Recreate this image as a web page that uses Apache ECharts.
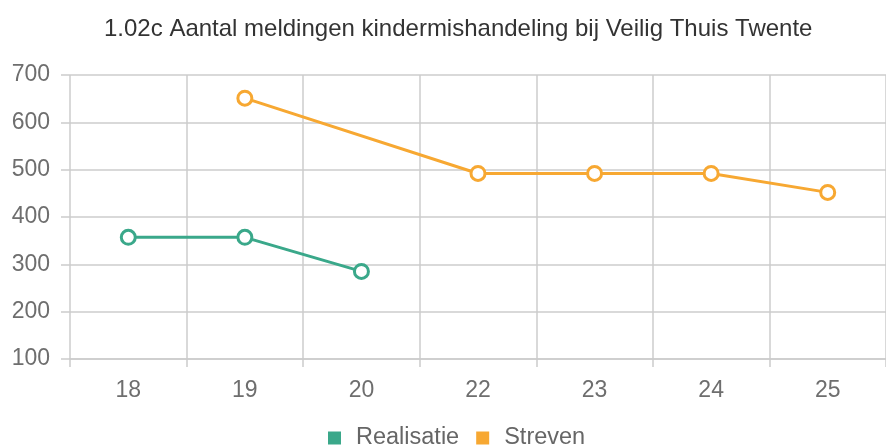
<!DOCTYPE html>
<html><head><meta charset="utf-8">
<script src="https://cdn.jsdelivr.net/npm/echarts@6/dist/echarts.min.js"></script>
<style>html,body{margin:0;padding:0;background:#fff}#c{width:886px;height:446px}</style>
</head><body><div id="c"></div>
<script>
const titleText = "1.02c Aantal meldingen kindermishandeling bij Veilig Thuis Twente";
const categories = ["18", "19", "20", "22", "23", "24", "25"];
const realisatie = [357, 357, 285, null, null, null, null];
const streven = [null, 651, null, 492, 492, 492, 452];
const seriesNames = ["Realisatie", "Streven"];
const colors = ["#3aa88a", "#f7a832"];
const font = "Liberation Sans, Arial, sans-serif";

const chart = echarts.init(document.getElementById('c'), null, {renderer: 'canvas'});
chart.setOption({
  animation: false,
  color: colors,
  textStyle: {fontFamily: font},
  title: {text: titleText, left: 99, top: 12,
    textStyle: {fontFamily: font, fontSize: 24, fontWeight: 'normal', color: '#333'}},
  legend: {bottom: -9, left: 323, itemWidth: 13, itemHeight: 13, itemGap: 17,
    icon: 'rect',
    data: seriesNames.map((n, i) => ({name: n, itemStyle: {color: colors[i], borderWidth: 0}})),
    textStyle: {fontFamily: font, fontSize: 23.5, color: '#666', padding: [0, 0, 0, 10]}},
  grid: {left: 70, top: 75, width: 820, height: 284, containLabel: false},
  xAxis: {type: 'category', data: categories, boundaryGap: true,
    axisLine: {lineStyle: {color: '#ccc', width: 1.5}},
    axisTick: {show: true, length: 8, lineStyle: {color: '#ccc', width: 1.5}},
    splitLine: {show: true, lineStyle: {color: '#ccc', width: 1.5}},
    axisLabel: {fontFamily: font, fontSize: 23, color: '#6e6e6e', margin: 20}},
  yAxis: {type: 'value', min: 100, max: 700, interval: 100,
    axisLine: {show: false},
    axisTick: {show: true, length: 9, lineStyle: {color: '#ccc', width: 1.5}},
    splitLine: {show: true, lineStyle: {color: '#ccc', width: 1.5}},
    axisLabel: {fontFamily: font, fontSize: 23, color: '#6e6e6e', margin: 20}},
  series: [
    {name: seriesNames[0], type: 'line', data: realisatie, connectNulls: true,
     symbol: 'circle', symbolSize: 14,
     lineStyle: {width: 3, color: colors[0]},
     itemStyle: {color: '#fff', borderColor: colors[0], borderWidth: 3}},
    {name: seriesNames[1], type: 'line', data: streven, connectNulls: true,
     symbol: 'circle', symbolSize: 14,
     lineStyle: {width: 3, color: colors[1]},
     itemStyle: {color: '#fff', borderColor: colors[1], borderWidth: 3}}
  ]
});
</script></body></html>
